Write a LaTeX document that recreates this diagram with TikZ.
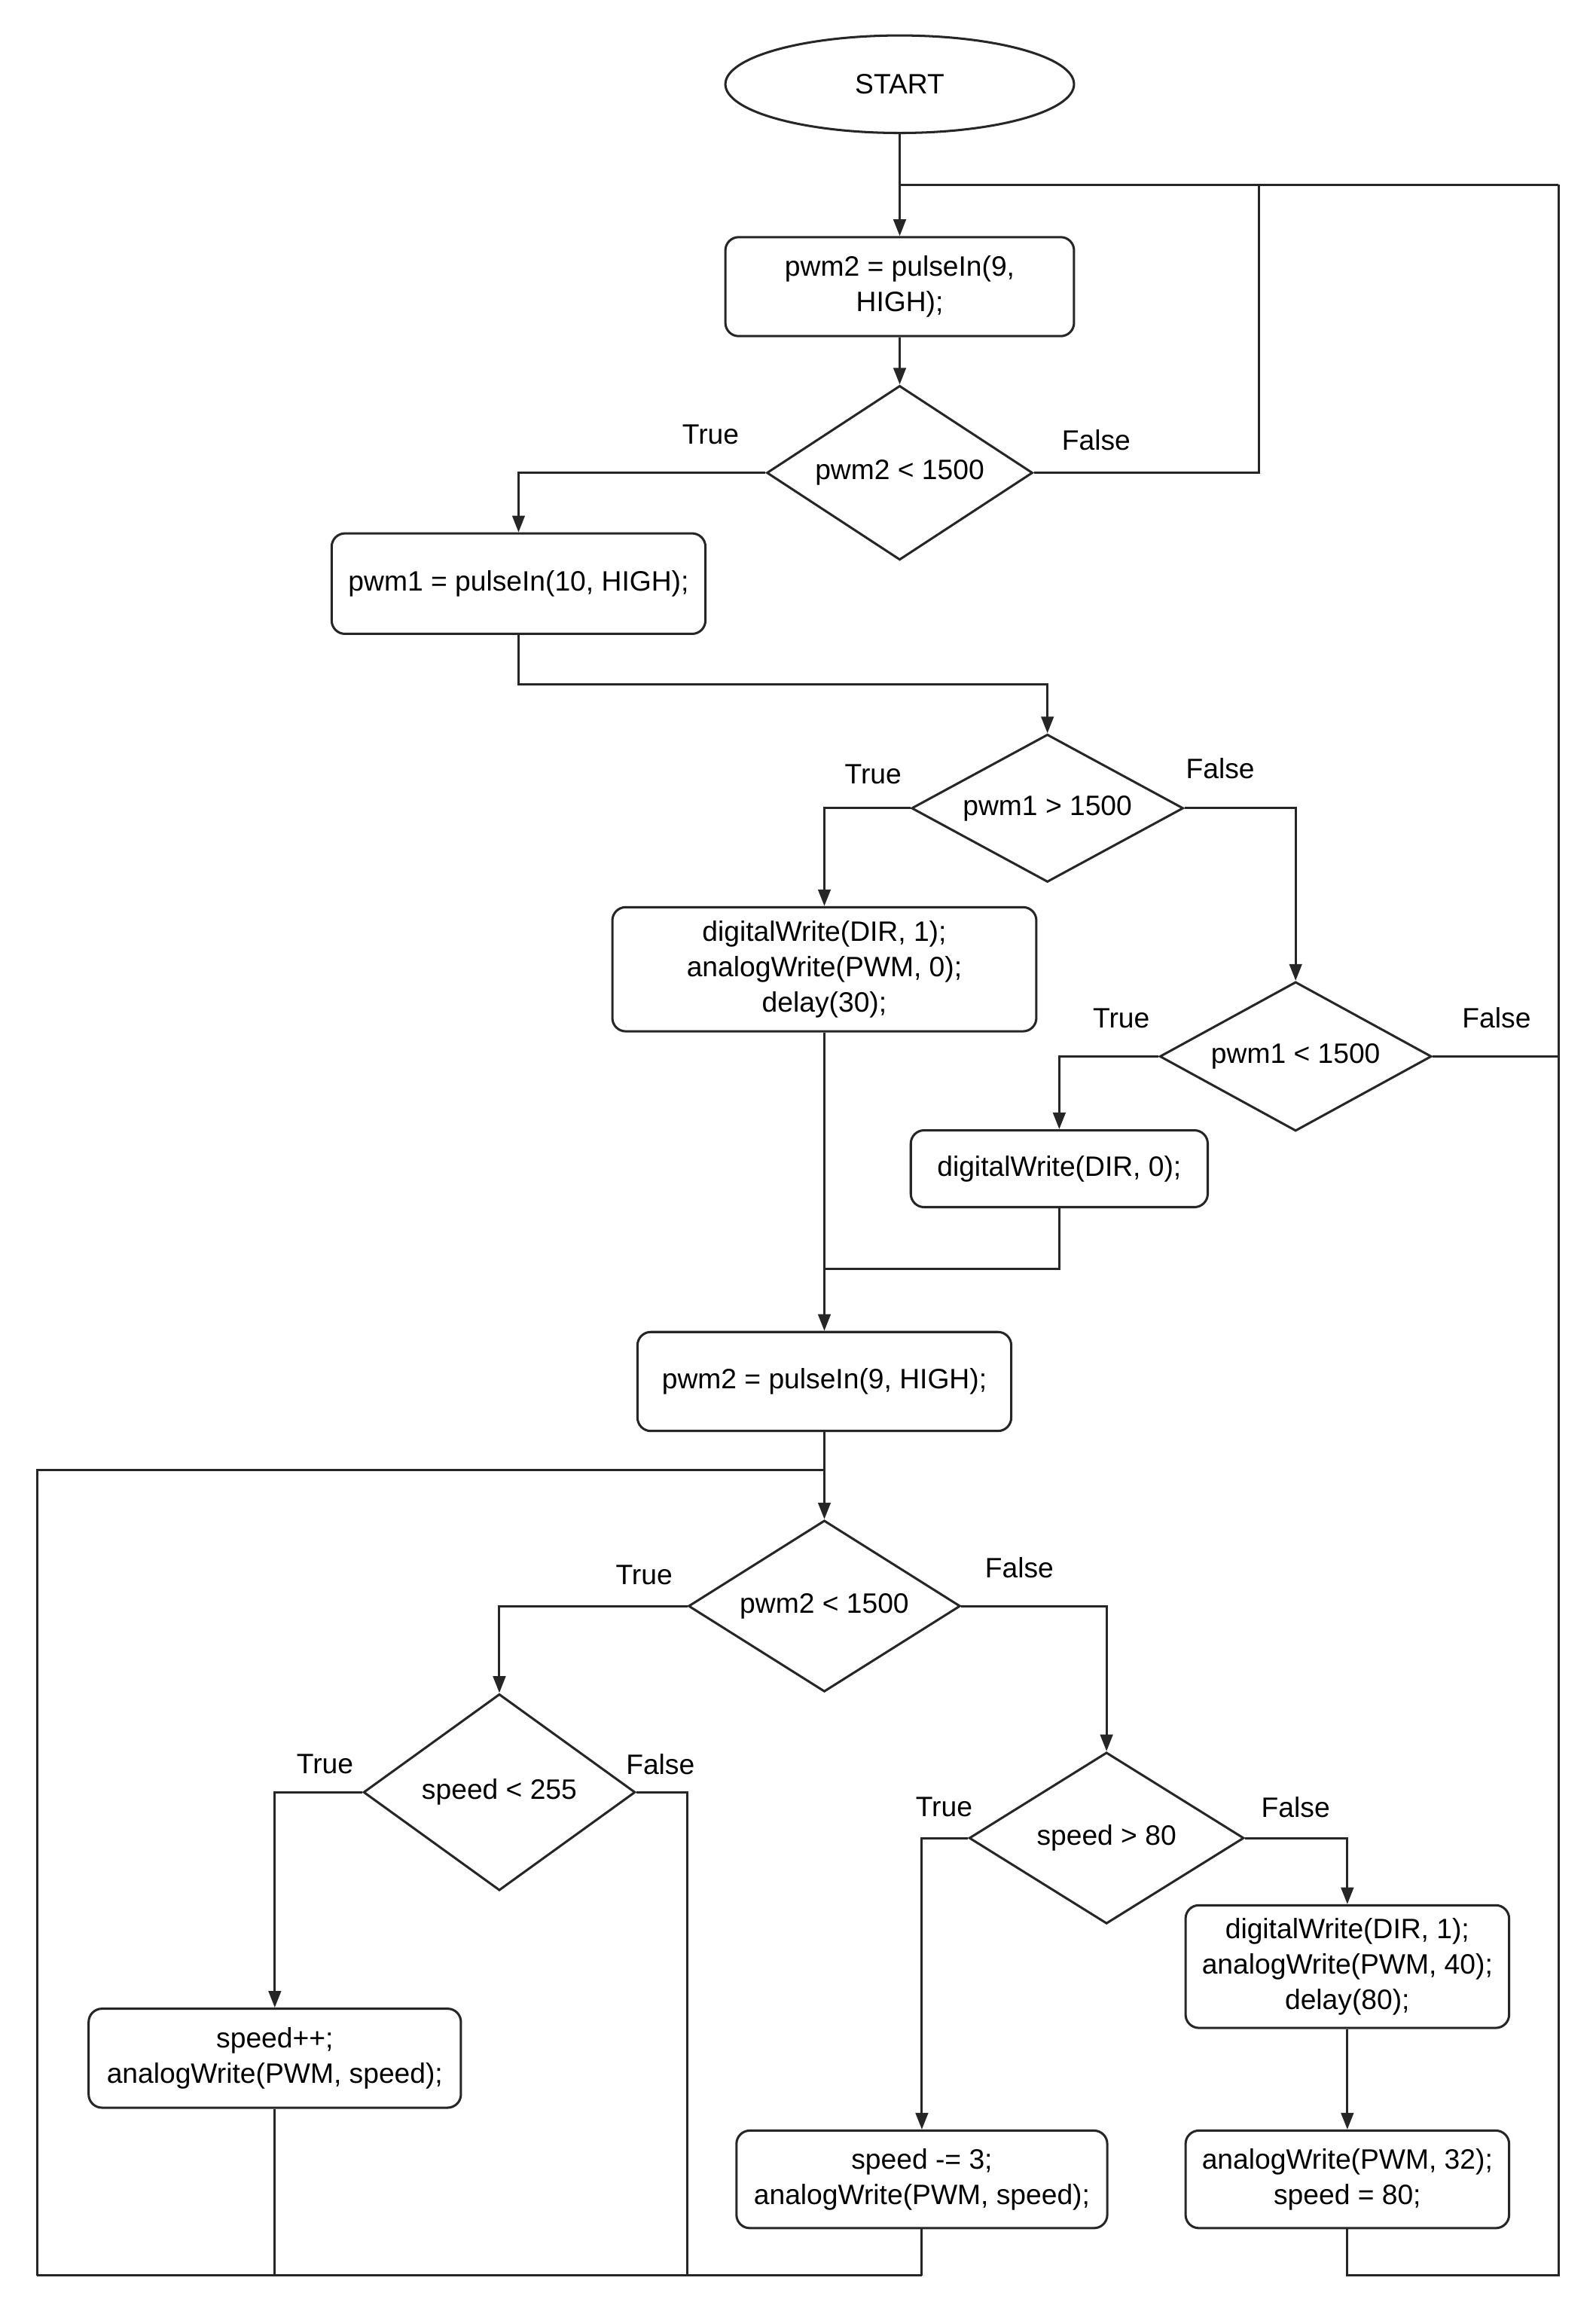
\documentclass[tikz,border=0pt]{standalone}
\usepackage{fontspec}
\setmainfont{Liberation Sans}
\usetikzlibrary{shapes.geometric,arrows.meta}
\begin{document}
\begin{tikzpicture}[x=0.05cm,y=-0.05cm,
  every node/.style={font=\fontsize{27}{34}\selectfont},
  line/.style={line width=2.2pt,draw=black!85},
  arr/.style={line,-{Triangle[length=16pt,width=12pt]}},
  box/.style={draw=black!85,line width=2.2pt,rounded corners=0.45cm,align=center,inner sep=0pt},
  dec/.style={draw=black!85,line width=2.2pt,diamond,aspect=1.5,inner sep=0pt},
  lab/.style={font=\fontsize{27}{34}\selectfont}]
\useasboundingbox (0,0) rectangle (1080,1556);
\node[draw=black!85,line width=2.2pt,ellipse,minimum width=11.8cm,minimum height=3.3cm] (start) at (609,57) {START};
\node[box,minimum width=11.8cm,minimum height=3.35cm] (b1) at (609,194) {pwm2 = pulseIn(9,\\HIGH);};
\node[dec,minimum width=9cm,minimum height=5.9cm] (d1) at (609,320) {pwm2 < 1500};
\node[box,minimum width=12.65cm,minimum height=3.4cm] (b2) at (351,395) {pwm1 = pulseIn(10, HIGH);};
\node[dec,minimum width=9.2cm,minimum height=5cm] (d2) at (709,547) {pwm1 > 1500};
\node[box,minimum width=14.35cm,minimum height=4.2cm] (b3) at (558,656) {digitalWrite(DIR, 1);\\analogWrite(PWM, 0);\\delay(30);};
\node[dec,minimum width=9.2cm,minimum height=5.05cm] (d3) at (877,715) {pwm1 < 1500};
\node[box,minimum width=10.05cm,minimum height=2.6cm] (b4) at (717,791) {digitalWrite(DIR, 0);};
\node[box,minimum width=12.65cm,minimum height=3.35cm] (b5) at (558,935) {pwm2 = pulseIn(9, HIGH);};
\node[dec,minimum width=9.2cm,minimum height=5.8cm] (d4) at (558,1087) {pwm2 < 1500};
\node[dec,minimum width=9.2cm,minimum height=6.65cm] (d5) at (338,1213) {speed < 255};
\node[dec,minimum width=9.3cm,minimum height=5.8cm] (d6) at (749,1244) {speed > 80};
\node[box,minimum width=12.6cm,minimum height=3.35cm] (b6) at (186,1393) {speed++;\\analogWrite(PWM, speed);};
\node[box,minimum width=12.55cm,minimum height=3.3cm] (b7) at (624,1475) {speed -= 3;\\analogWrite(PWM, speed);};
\node[box,minimum width=10.95cm,minimum height=4.15cm] (b8) at (912,1331) {digitalWrite(DIR, 1);\\analogWrite(PWM, 40);\\delay(80);};
\node[box,minimum width=10.95cm,minimum height=3.3cm] (b9) at (912,1475) {analogWrite(PWM, 32);\\speed = 80;};
% coordinates
\coordinate (top) at (609,125);
\coordinate (rt) at (1055,125);
\coordinate (rb) at (1055,1540);
\coordinate (m1) at (852,125);
\coordinate (lt) at (25,995);
\coordinate (lb) at (25,1540);
\coordinate (j1) at (558,995);
\coordinate (j2) at (558,859);
\coordinate (bm) at (624,1540);
% edges
\draw[arr] (start) -- (b1);
\draw[line] (rt) -- (top);
\draw[line] (d1.east) -- (852,320) -- (m1);
\draw[arr] (b1) -- (d1);
\draw[arr] (d1.west) -| (b2.north);
\draw[arr] (b2.south) |- (709,463) -- (d2.north);
\draw[arr] (d2.west) -| (b3.north);
\draw[arr] (d2.east) -| (d3.north);
\draw[arr] (d3.west) -| (b4.north);
\draw[line] (d3.east) -- (1055,715);
\draw[arr] (b3) -- (b5);
\draw[line] (b4.south) |- (j2);
\draw[arr] (b5) -- (d4);
\draw[line] (lb) -- (lt) -- (j1);
\draw[arr] (d4.west) -| (d5.north);
\draw[arr] (d4.east) -| (d6.north);
\draw[arr] (d5.west) -| (b6.north);
\draw[line] (d5.east) -- (465,1213) -- (465,1540);
\draw[line] (b6.south) -- (186,1540);
\draw[line] (lb) -- (bm);
\draw[line] (b7.south) -- (bm);
\draw[arr] (d6.west) -| (b7.north);
\draw[arr] (d6.east) -| (b8.north);
\draw[arr] (b8) -- (b9);
\draw[line] (b9.south) |- (rb) -- (rt);
% labels
\node[lab] (t1) at (481,294) {True};
\node[lab] (f1) at (742,298) {False};
\node[lab] (t2) at (591,524) {True};
\node[lab] (f2) at (826,520) {False};
\node[lab] (t3) at (759,689) {True};
\node[lab] (f3) at (1013,689) {False};
\node[lab] (t4) at (436,1066) {True};
\node[lab] (f4) at (690,1061) {False};
\node[lab] (t5) at (220,1194) {True};
\node[lab] (f5) at (447,1194) {False};
\node[lab] (t6) at (639,1223) {True};
\node[lab] (f6) at (877,1223) {False};
\end{tikzpicture}
\end{document}
